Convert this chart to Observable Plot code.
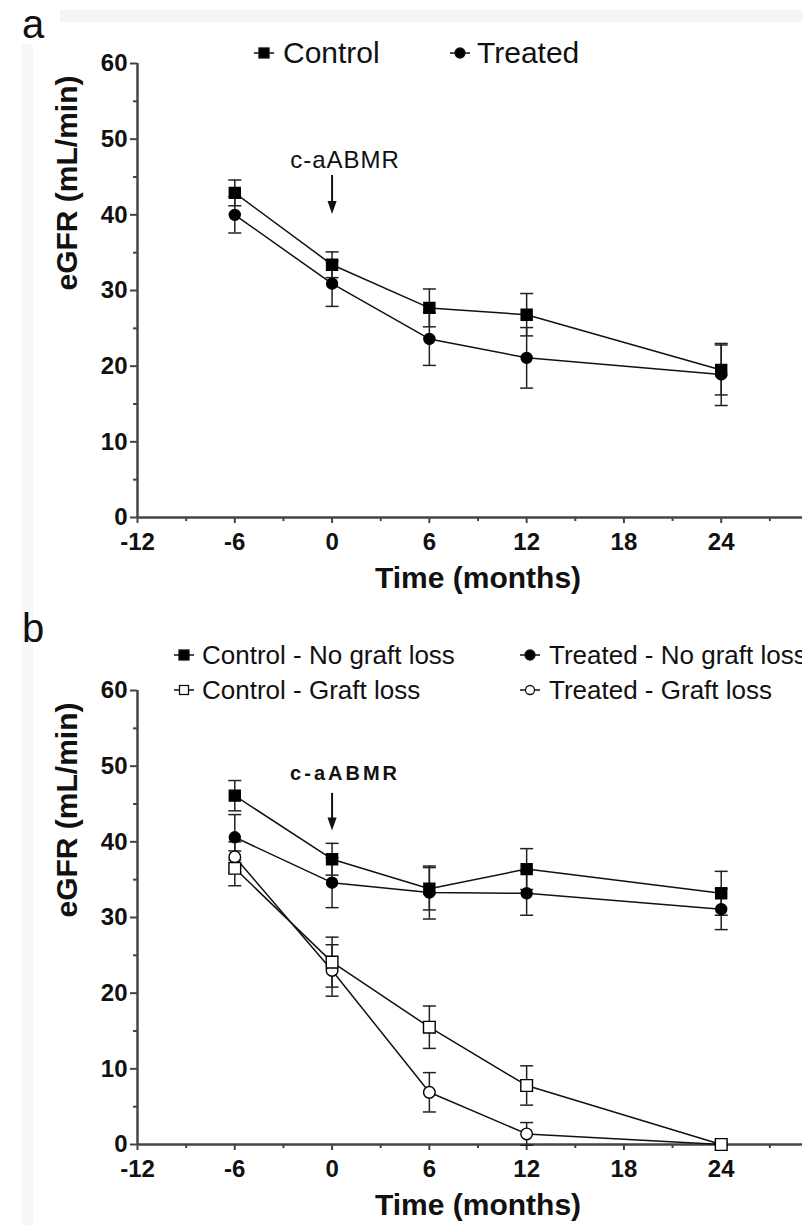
<!DOCTYPE html>
<html>
<head>
<meta charset="utf-8">
<script src="https://cdn.jsdelivr.net/npm/d3@7"></script>
<script src="https://cdn.jsdelivr.net/npm/@observablehq/plot@0.6"></script>
<style>
  html, body { margin: 0; padding: 0; background: #fff; overflow: hidden; }
  #page { position: relative; width: 802px; height: 1225px; overflow: hidden; background: #fff;
          font-family: "Liberation Sans", Arial, sans-serif; color: #111; }
  .abs { position: absolute; white-space: nowrap; line-height: 1; }
  .band { position: absolute; background: #f4f4f4; }
  #page svg { max-width: none !important; }
</style>
</head>
<body>
<div id="page"></div>
<script>
// ---------- data ----------
const months = [-6, 0, 6, 12, 24];
const xTicks = [-12, -6, 0, 6, 12, 18, 24, 30];
const xMinorTicks = [-9, -3, 3, 9, 15, 21, 27];
const yTicks = [0, 10, 20, 30, 40, 50, 60];
const yMinorTicks = [5, 15, 25, 35, 45, 55];
const xLabel = "Time (months)";
const yLabel = "eGFR (mL/min)";
const eventLabel = "c-aABMR";
const eventMonth = 0;

// panel a
const aSeries = ["Control", "Treated"];
const aControlMean = [42.9, 33.4, 27.7, 26.8, 19.5];
const aControlSem  = [1.7, 1.7, 2.5, 2.8, 3.3];
const aTreatedMean = [40.0, 30.9, 23.6, 21.1, 18.9];
const aTreatedSem  = [2.4, 3.0, 3.5, 4.0, 4.1];
const aEvent = {label: 47.2, top: 45.2, tip: 40.1};

// panel b
const bSeries = ["Control - No graft loss", "Treated - No graft loss", "Control - Graft loss", "Treated - Graft loss"];
const bControlNoLossMean = [46.1, 37.7, 33.8, 36.4, 33.2];
const bControlNoLossSem  = [2.0, 2.1, 2.8, 2.7, 2.9];
const bTreatedNoLossMean = [40.6, 34.6, 33.3, 33.2, 31.1];
const bTreatedNoLossSem  = [3.0, 3.3, 3.5, 2.9, 2.7];
const bControlLossMean   = [36.5, 24.1, 15.5, 7.8, 0];
const bControlLossSem    = [2.3, 3.3, 2.8, 2.6, 0];
const bTreatedLossMean   = [38.0, 23.0, 6.9, 1.4, 0];
const bTreatedLossSem    = [2.0, 3.4, 2.6, 1.5, 0];
const bEvent = {label: 49.0, top: 46.4, tip: 41.5};

// ---------- helpers ----------
function rows(series, means, sems) {
  return months.map((m, i) => ({series, x: m, y: means[i], e: sems[i]}));
}
const capSymbol = {draw(ctx, size) { const r = Math.sqrt(size / Math.PI); ctx.moveTo(-r, 0); ctx.lineTo(r, 0); }};
const arrowHead = {draw(ctx, size) { const r = Math.sqrt(size / Math.PI); ctx.moveTo(0, 0); ctx.lineTo(-0.7 * r, -2 * r); ctx.lineTo(0.7 * r, -2 * r); ctx.closePath(); }};

const styles = {
  filledSquare: {symbol: "square", r: 6.2, fill: "#000", stroke: "#000"},
  filledCircle: {symbol: "circle", r: 5.5, fill: "#000", stroke: "#000"},
  openSquare:   {symbol: "square", r: 6.6, fill: "#fff", stroke: "#000"},
  openCircle:   {symbol: "circle", r: 5.8, fill: "#fff", stroke: "#000"}
};

function panel({data, seriesStyles, event, eventBold, marginTop}) {
  const withErr = data.filter(d => d.e > 0);
  const axisCommon = {stroke: "#444", color: "#111", fontWeight: "bold", fontSize: 24, label: null};
  const marks = [
    Plot.axisX({...axisCommon, ticks: xTicks, tickSize: 6, tickPadding: 9, strokeWidth: 2, tickFormat: d => String(d)}),
    Plot.axisX({ticks: xMinorTicks, tickSize: 4, strokeWidth: 2, stroke: "#444", tickFormat: () => "", label: null}),
    Plot.axisY({...axisCommon, ticks: yTicks, tickSize: 7, tickPadding: 3, strokeWidth: 2, tickFormat: d => String(d)}),
    Plot.axisY({ticks: yMinorTicks, tickSize: 4, strokeWidth: 2, stroke: "#444", tickFormat: () => "", label: null}),
    Plot.ruleY([0], {stroke: "#444", strokeWidth: 2.5}),
    Plot.ruleX([-12], {stroke: "#444", strokeWidth: 2.5}),
    Plot.text([xLabel], {frameAnchor: "bottom", dy: 61, lineAnchor: "middle", fontSize: 30, fontWeight: "bold", fill: "#111"}),
    Plot.text([yLabel], {frameAnchor: "left", dx: -70, rotate: -90, lineAnchor: "middle", fontSize: 30, fontWeight: "bold", fill: "#111"}),
    // event annotation
    Plot.text([event], {x: () => eventMonth, y: d => d.label, text: () => eventLabel, dx: 13,
      fontSize: eventBold ? 20 : 24, fontWeight: eventBold ? "bold" : "normal", fill: "#111"}),
    Plot.ruleX([event], {x: () => eventMonth, y1: d => d.top, y2: d => d.tip + 1.2, stroke: "#111", strokeWidth: 2}),
    Plot.dot([event], {x: () => eventMonth, y: d => d.tip, symbol: arrowHead, r: 6.5, fill: "#111", stroke: "none"}),
    // series lines
    Plot.line(data, {x: "x", y: "y", z: "series", stroke: "#111", strokeWidth: 1.5}),
    // error bars
    Plot.ruleX(withErr, {x: "x", y1: d => d.y - d.e, y2: d => d.y + d.e, stroke: "#222", strokeWidth: 1.5}),
    Plot.dot(withErr, {x: "x", y: d => d.y - d.e, symbol: capSymbol, r: 6.5, stroke: "#222", strokeWidth: 1.5, fill: "none"}),
    Plot.dot(withErr, {x: "x", y: d => d.y + d.e, symbol: capSymbol, r: 6.5, stroke: "#222", strokeWidth: 1.5, fill: "none"})
  ];
  for (const [name, st] of Object.entries(seriesStyles)) {
    marks.push(Plot.dot(data.filter(d => d.series === name), {x: "x", y: "y", symbol: st.symbol, r: st.r, fill: st.fill, stroke: st.stroke, strokeWidth: 1.4}));
  }
  const svg = Plot.plot({
    width: 830, height: marginTop + 454 + 84,
    marginLeft: 137, marginRight: 12, marginTop, marginBottom: 84,
    x: {type: "linear", domain: [-12, 30]},
    y: {type: "linear", domain: [0, 60]},
    style: {fontFamily: "'Liberation Sans', Arial, sans-serif", background: "transparent", overflow: "visible", color: "#111", maxWidth: "none"},
    marks
  });
  svg.style.maxWidth = "none";
  d3.select(svg).selectAll("text").filter(function() { return this.textContent === eventLabel; })
    .attr("letter-spacing", eventBold ? "3px" : "1px");
  return svg;
}

const page = document.getElementById("page");
function place(el, left, top) { el.style.position = "absolute"; el.style.left = left + "px"; el.style.top = top + "px"; page.appendChild(el); return el; }
function textDiv(txt, left, centerY, fs, weight) {
  const d = document.createElement("div");
  d.className = "abs"; d.textContent = txt; d.style.fontSize = fs + "px";
  if (weight) d.style.fontWeight = weight;
  return place(d, left, centerY - 0.49 * fs);
}
function legendMarker(kind, cx, cy) {
  const w = 24, h = 16;
  const ns = "http://www.w3.org/2000/svg";
  const s = document.createElementNS(ns, "svg");
  s.setAttribute("width", w); s.setAttribute("height", h);
  const line = document.createElementNS(ns, "line");
  line.setAttribute("x1", 2); line.setAttribute("x2", w - 2); line.setAttribute("y1", h / 2); line.setAttribute("y2", h / 2);
  line.setAttribute("stroke", "#111"); line.setAttribute("stroke-width", 1.5);
  s.appendChild(line);
  let m;
  const st = styles[kind];
  if (st.symbol === "square") {
    m = document.createElementNS(ns, "rect");
    const side = st.fill === "#000" ? 10 : 9;
    m.setAttribute("x", w / 2 - side / 2); m.setAttribute("y", h / 2 - side / 2);
    m.setAttribute("width", side); m.setAttribute("height", side);
  } else {
    m = document.createElementNS(ns, "circle");
    m.setAttribute("cx", w / 2); m.setAttribute("cy", h / 2); m.setAttribute("r", st.fill === "#000" ? 5 : 4.5);
  }
  m.setAttribute("fill", st.fill); m.setAttribute("stroke", "#111"); m.setAttribute("stroke-width", 1.3);
  s.appendChild(m);
  s.style.position = "absolute"; s.style.left = (cx - w / 2) + "px"; s.style.top = (cy - h / 2) + "px";
  page.appendChild(s);
}

// faint scan bands
const band1 = document.createElement("div"); band1.className = "band"; band1.style.cssText += "left:60px;top:10px;width:742px;height:12px;"; page.appendChild(band1);
const band2 = document.createElement("div"); band2.className = "band"; band2.style.cssText += "left:22px;top:44px;width:11px;height:1181px;background:#f7f7f7;"; page.appendChild(band2);

// ---------- panel a ----------
const aData = [...rows("Control", aControlMean, aControlSem), ...rows("Treated", aTreatedMean, aTreatedSem)];
const svgA = panel({data: aData, seriesStyles: {Control: styles.filledSquare, Treated: styles.filledCircle}, event: aEvent, eventBold: false, marginTop: 63});
place(svgA, 0, 0);

// ---------- panel b ----------
const bData = [
  ...rows(bSeries[0], bControlNoLossMean, bControlNoLossSem),
  ...rows(bSeries[1], bTreatedNoLossMean, bTreatedNoLossSem),
  ...rows(bSeries[2], bControlLossMean, bControlLossSem),
  ...rows(bSeries[3], bTreatedLossMean, bTreatedLossSem)
];
const svgB = panel({data: bData, seriesStyles: {
  [bSeries[0]]: styles.filledSquare, [bSeries[1]]: styles.filledCircle,
  [bSeries[3]]: styles.openCircle, [bSeries[2]]: styles.openSquare}, event: bEvent, eventBold: true, marginTop: 90});
place(svgB, 0, 600);

// panel letters
textDiv("a", 22, 24, 40);
textDiv("b", 22, 628, 40);

// legend a
legendMarker("filledSquare", 264, 53); textDiv(aSeries[0], 283, 53, 30);
legendMarker("filledCircle", 460, 53); textDiv(aSeries[1], 477, 53, 30);

// legend b
legendMarker("filledSquare", 184, 655); textDiv(bSeries[0], 202, 655, 26);
legendMarker("filledCircle", 530, 655); textDiv(bSeries[1], 549, 655, 26);
legendMarker("openSquare", 184, 690); textDiv(bSeries[2], 202, 690, 26);
legendMarker("openCircle", 530, 690); textDiv(bSeries[3], 549, 690, 26);
</script>
</body>
</html>
